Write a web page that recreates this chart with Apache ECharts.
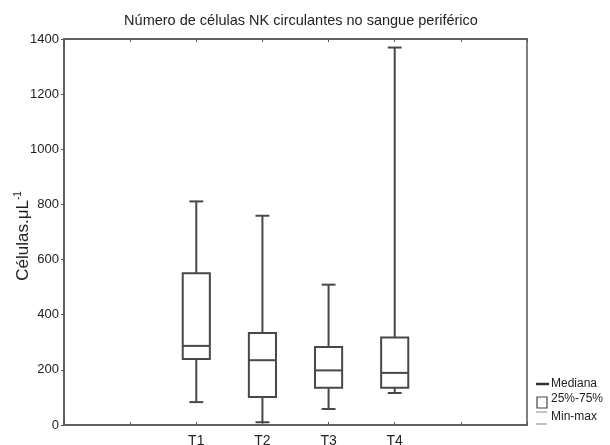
<!DOCTYPE html>
<html>
<head>
<meta charset="utf-8">
<script src="https://cdn.jsdelivr.net/npm/echarts@6/dist/echarts.min.js"></script>
<style>html,body{margin:0;padding:0;background:#fff}#c{width:610px;height:445px}</style>
</head>
<body>
<div id="c"></div>
<script>
const categories = ['', '', 'T1', 'T2', 'T3', 'T4', '', ''];
const groups = ['T1', 'T2', 'T3', 'T4'];
const mins    = [83, 10, 58, 116];
const q1s     = [239, 102, 135, 135];
const medians = [287, 235, 198, 189];
const q3s     = [550, 334, 283, 317];
const maxs    = [811, 759, 509, 1369];
const yTicks  = [0, 200, 400, 600, 800, 1000, 1200, 1400];

const data = groups.map((g, i) => [categories.indexOf(g), mins[i], q1s[i], medians[i], q3s[i], maxs[i]]);

const lineColor = '#484848';
const font = 'Liberation Sans, Arial, sans-serif';

const chart = echarts.init(document.getElementById('c'));
chart.setOption({
  animation: false,
  backgroundColor: '#fff',
  title: {
    text: 'Número de células NK circulantes no sangue periférico',
    left: 296, top: 8, textAlign: 'center',
    textStyle: { fontFamily: font, fontSize: 14.5, fontWeight: 'normal', color: '#222' }
  },
  grid: { left: 64, right: 83, top: 39, bottom: 20, outerBoundsMode: 'none', containLabel: false,
    show: true, borderColor: '#555', borderWidth: 1.5, backgroundColor: 'transparent' },
  xAxis: [{
    type: 'category', data: categories, boundaryGap: false,
    axisLine: { lineStyle: { color: '#555', width: 1.5 } },
    axisTick: { inside: true, length: 3, lineStyle: { color: '#555' } },
    axisLabel: { interval: 0, color: '#222', fontFamily: font, fontSize: 14, margin: 9 },
    splitLine: { show: false }
  }, {
    type: 'category', data: categories, boundaryGap: false, position: 'top',
    axisLine: { lineStyle: { color: '#555', width: 1.5 } },
    axisTick: { inside: true, length: 3, lineStyle: { color: '#555' } },
    axisLabel: { show: false }, splitLine: { show: false }
  }],
  yAxis: {
    type: 'value', min: 0, max: 1400, interval: 200,
    name: '{a|Células.μL}{s|-1}', nameLocation: 'middle', nameGap: 31, nameRotate: 90,
    nameMoveOverlap: false,
    nameTextStyle: {
      padding: [0, 8, 0, 0],
      rich: {
        a: { fontFamily: font, fontSize: 17, color: '#222' },
        s: { fontFamily: font, fontSize: 10, color: '#222', verticalAlign: 'top', padding: [0, 0, 10, 0] }
      }
    },
    axisLine: { show: true, lineStyle: { color: '#555', width: 1.5 } },
    axisTick: { show: true, length: 3, lineStyle: { color: '#555' } },
    axisLabel: { color: '#222', fontFamily: font, fontSize: 13, margin: 5,
      formatter: v => yTicks.includes(v) ? String(v) : '' },
    splitLine: { show: false }
  },
  series: [{
    type: 'custom',
    xAxisIndex: 0,
    encode: { x: 0, y: [1, 2, 3, 4, 5] },
    data: data,
    renderItem: function (params, api) {
      const idx = api.value(0);
      const pMin = api.coord([idx, api.value(1)]);
      const pQ1 = api.coord([idx, api.value(2)]);
      const pMed = api.coord([idx, api.value(3)]);
      const pQ3 = api.coord([idx, api.value(4)]);
      const pMax = api.coord([idx, api.value(5)]);
      const band = api.size([1, 0])[0];
      const bw = band * 0.41;
      const cw = band * 0.21;
      const x = pMed[0];
      const st = { stroke: lineColor, lineWidth: 2, fill: null };
      return {
        type: 'group',
        children: [
          { type: 'rect', shape: { x: x - bw / 2, y: pQ3[1], width: bw, height: pQ1[1] - pQ3[1] }, style: { stroke: lineColor, lineWidth: 2, fill: '#fff' } },
          { type: 'line', shape: { x1: x - bw / 2, y1: pMed[1], x2: x + bw / 2, y2: pMed[1] }, style: st },
          { type: 'line', shape: { x1: x, y1: pQ3[1], x2: x, y2: pMax[1] }, style: st },
          { type: 'line', shape: { x1: x, y1: pQ1[1], x2: x, y2: pMin[1] }, style: st },
          { type: 'line', shape: { x1: x - cw / 2, y1: pMax[1], x2: x + cw / 2, y2: pMax[1] }, style: st },
          { type: 'line', shape: { x1: x - cw / 2, y1: pMin[1], x2: x + cw / 2, y2: pMin[1] }, style: st }
        ]
      };
    }
  }],
  graphic: [
    { type: 'line', shape: { x1: 536, y1: 384, x2: 549, y2: 384 }, style: { stroke: '#333', lineWidth: 2.5 } },
    { type: 'text', left: 551, top: 378, style: { text: 'Mediana', font: '12px ' + font, fill: '#222' } },
    { type: 'rect', shape: { x: 537, y: 397, width: 10, height: 11 }, style: { stroke: '#444', lineWidth: 1.2, fill: '#fff' } },
    { type: 'text', left: 551, top: 393, style: { text: '25%-75%', font: '12px ' + font, fill: '#222' } },
    { type: 'line', shape: { x1: 536, y1: 412, x2: 547, y2: 412 }, style: { stroke: '#999', lineWidth: 1.2 } },
    { type: 'line', shape: { x1: 536, y1: 424, x2: 547, y2: 424 }, style: { stroke: '#999', lineWidth: 1.2 } },
    { type: 'text', left: 551, top: 411, style: { text: 'Min-max', font: '12px ' + font, fill: '#222' } }
  ]
});
</script>
</body>
</html>
